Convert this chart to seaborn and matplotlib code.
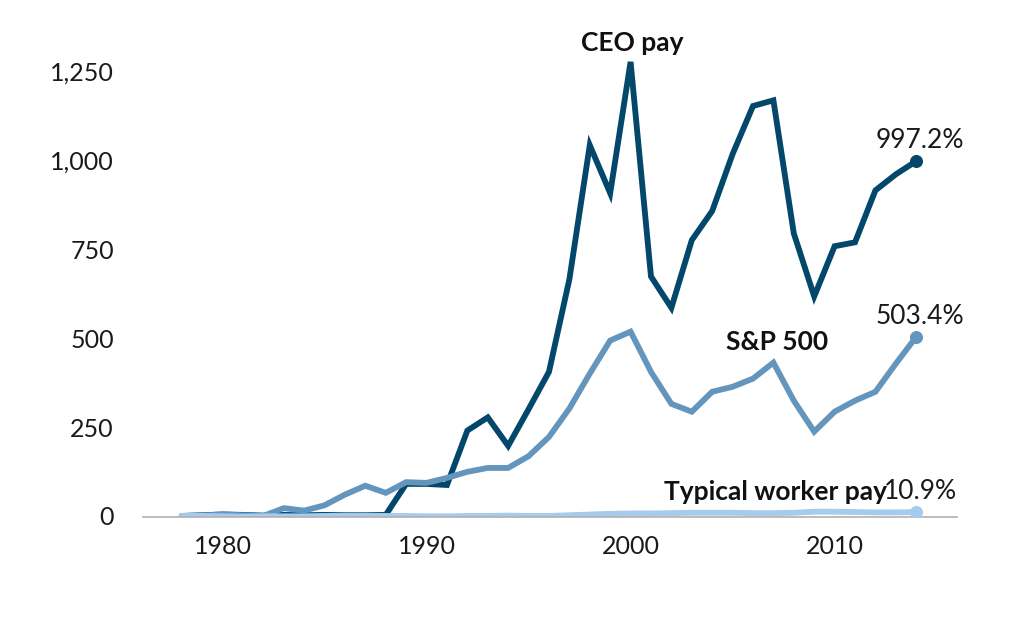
import matplotlib
matplotlib.use("Agg")
import matplotlib.pyplot as plt
import numpy as np
import pandas as pd
import seaborn as sns

years = list(range(1978, 2015))
ceo_pay = [0, 2, 4, 3, 1, 3, 2, 3, 2, 2, 3, 90, 90, 87, 240, 277, 197, 300, 405, 665,
           1042, 907, 1276, 673, 585, 775, 857, 1017, 1152, 1168, 794, 617, 758, 769,
           915, 960, 997.2]
sp500 = [0, 1, 5, 2, 0, 22, 15, 30, 60, 85, 65, 95, 93, 107, 124, 135, 135, 168, 222,
         302, 400, 493, 518, 405, 315, 293, 349, 363, 386, 431, 324, 237, 293, 324,
         349, 428, 503.4]
worker_pay = [0, 0, -1, -2, -1, -1, -1, 0, 0, 0, 0, 0, -1, -1, 0, 0, 1, 0, 0, 2, 4, 6,
              7, 7, 8, 9, 9, 9, 8, 8, 9, 12, 12, 11, 10, 10, 10.9]
series_names = ["CEO pay", "S&P 500", "Typical worker pay"]
end_labels = ["997.2%", "503.4%", "10.9%"]
colors = ["#03486b", "#6496bd", "#a7cbec"]

df = pd.DataFrame({"year": years * 3,
                   "value": ceo_pay + sp500 + worker_pay,
                   "series": np.repeat(series_names, len(years))})

sns.set_theme(style="white")
plt.rcParams["font.family"] = ["Lato", "DejaVu Sans"]

fig = plt.figure(figsize=(10.24, 6.41), dpi=100)
ax = fig.add_axes([0.1396, 0.1934, 0.795, 0.76])
for name, c in zip(series_names, colors):
    sub = df[df["series"] == name]
    sns.lineplot(data=sub, x="year", y="value", color=c, lw=4.2, ax=ax,
                 solid_capstyle="round", solid_joinstyle="miter")
    last = sub.iloc[-1]
    ax.scatter([last["year"]], [last["value"]], s=70, color=c, zorder=5)

ax.set_xlim(1976.1, 2016.0)
ax.set_ylim(-3, 1366)
ax.set_xticks([1980, 1990, 2000, 2010])
ax.set_yticks([0, 250, 500, 750, 1000, 1250])
ax.set_yticklabels(["0", "250", "500", "750", "1,000", "1,250"])
ax.set_xlabel(""); ax.set_ylabel("")
for s in ["top", "right", "left"]:
    ax.spines[s].set_visible(False)
ax.spines["bottom"].set_color("#b0b0b0")
ax.spines["bottom"].set_linewidth(1.2)
ax.tick_params(axis="x", length=8, width=1, color="#b0b0b0", labelsize=18,
               labelcolor="#1a1a1a", pad=5)
ax.tick_params(axis="y", length=0, labelsize=18, labelcolor="#1a1a1a", pad=21)

# series labels
ax.text(2000.1, 1329, "CEO pay", fontsize=19, fontweight="bold", ha="center",
        va="center", color="#111111")
ax.text(2007.16, 490, "S&P 500", fontsize=19, fontweight="bold", ha="center",
        va="center", color="#111111")
ax.text(2007.1, 68, "Typical worker pay", fontsize=19, fontweight="bold", ha="center",
        va="center", color="#111111")
# end-value labels
for lab, yv in zip(end_labels, [1056, 560, 68]):
    ax.text(2014.2, yv, lab, fontsize=19, ha="center", va="center", color="#1a1a1a")

fig.savefig("out.png", dpi=100)
